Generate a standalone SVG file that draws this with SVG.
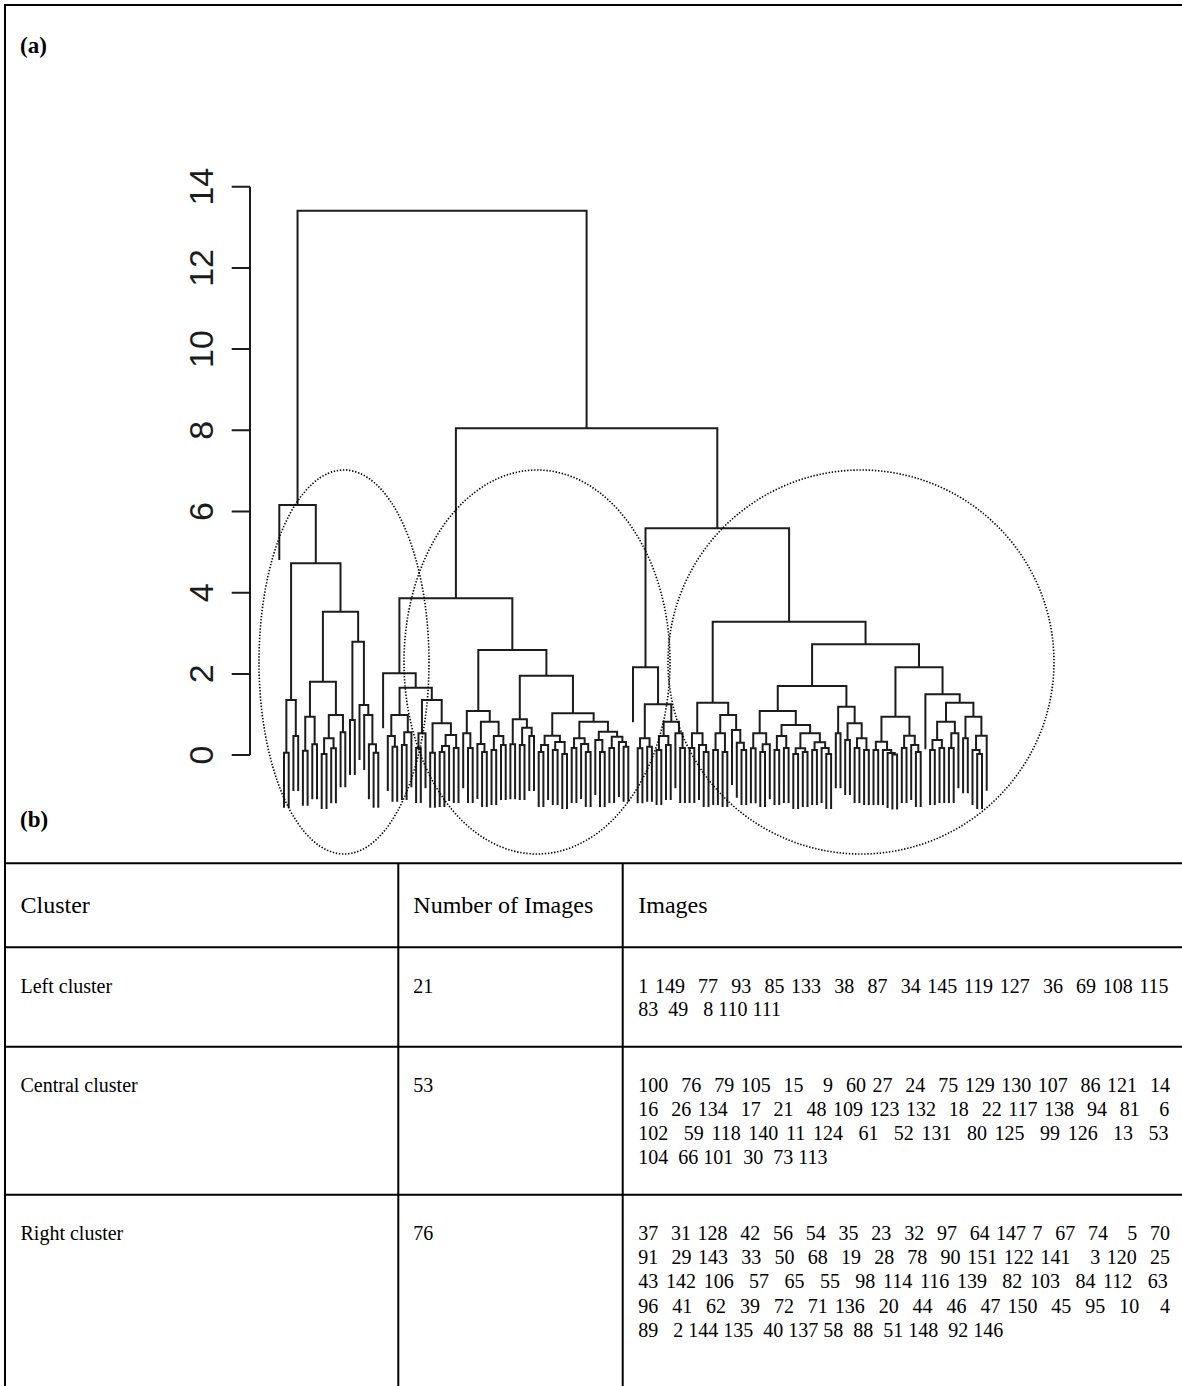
<svg xmlns="http://www.w3.org/2000/svg" width="1182" height="1386" viewBox="0 0 1182 1386">
  <style>
    .frame { stroke: #000; stroke-width: 2; fill: none; }
    .tree { stroke: #1c1c1c; stroke-width: 2; fill: none; stroke-linejoin: miter; stroke-linecap: butt; }
    .axis { stroke: #1c1c1c; stroke-width: 2; fill: none; }
    .ring { stroke: #000; stroke-width: 1.6; fill: none; stroke-dasharray: 1.4 1.7; }
    .tick { font-family: "Liberation Sans", Arial, sans-serif; font-size: 34px; fill: #1c1c1c; text-anchor: middle; }
    .panel { font-family: "Liberation Serif", "Times New Roman", serif; font-size: 23px; font-weight: bold; fill: #000; }
    .head { font-family: "Liberation Serif", "Times New Roman", serif; font-size: 24px; fill: #000; }
    .cell { font-family: "Liberation Serif", "Times New Roman", serif; font-size: 20px; fill: #000; white-space: pre; }
  </style>

  <rect width="1182" height="1386" fill="#fff"/>

  <!-- outer frame (left and top edges) -->
  <g id="frame">
    <path class="frame" d="M5 4V1386M4 5H1182"/>
  </g>

  <text id="label-a" class="panel" x="20" y="53">(a)</text>
  <text id="label-b" class="panel" x="20" y="827">(b)</text>

  <!-- height axis -->
  <g id="axis">
    <path class="axis" d="M250 186.7V755.1M231.7 755.1H250M231.7 673.9H250M231.7 592.7H250M231.7 511.5H250M231.7 430.3H250M231.7 349.1H250M231.7 267.9H250M231.7 186.7H250"/>
    <text class="tick" transform="translate(213 755.1) rotate(-90)">0</text>
    <text class="tick" transform="translate(213 673.9) rotate(-90)">2</text>
    <text class="tick" transform="translate(213 592.7) rotate(-90)">4</text>
    <text class="tick" transform="translate(213 511.5) rotate(-90)">6</text>
    <text class="tick" transform="translate(213 430.3) rotate(-90)">8</text>
    <text class="tick" transform="translate(213 349.1) rotate(-90)">10</text>
    <text class="tick" transform="translate(213 267.9) rotate(-90)">12</text>
    <text class="tick" transform="translate(213 186.7) rotate(-90)">14</text>
  </g>

  <!-- dendrogram: each subpath joins two children at their merge height -->
  <g id="dendrogram">
    <path id="left-branch" class="tree" d="M284 807.7V752.7H288.7V807.7M293.4 791V736H298.2V791M286.35 752.7V700H295.8V736M302.9 805.7V750.7H307.6V805.7M312.3 799.3V744.3H317V799.3M305.25 750.7V716.7H314.65V744.3M321.7 809V754H326.5V809M331.2 803.3V748.3H335.9V803.3M324.1 754V738.3H333.55V748.3M340.6 787.3V732.3H345.3V787.3M328.8 738.3V715H342.95V732.3M309.95 716.7V681.7H335.9V715M350 775V720H354.8V775M373.6 807.7V752.7H378.3V807.7M368.9 799.3V744.3H375.95V752.7M364.2 770V715H372.4V744.3M359.5 760V705H368.3V715M352.4 720V641.7H363.9V705M322.9 681.7V611.7H358.15V641.7M291.1 700V563.3H340.5V611.7M279.3 560V505H315.8V563.3"/>
    <path id="central-branch" class="tree" d="M392.5 801.7V746.7H397.2V801.7M387.8 791V736H394.85V746.7M401.9 800V745H406.6V800M404.25 745V732.3H411.4V787.3M391.3 736V715H407.8V732.3M416.1 803V748H420.8V803M418.45 748V733.3H425.5V788.3M430.2 807.7V752.7H434.9V807.7M439.7 807V752H444.4V807M442.05 752V746H449.1V801M453.8 803V748H458.5V803M445.6 746V735H456.15V748M432.55 752.7V723.3H450.9V735M421.95 733.3V700H441.7V723.3M399.55 715V687.7H431.8V700M383.1 728.3V673.3H415.7V687.7M468 803V748H472.7V803M463.2 788.3V733.3H470.35V748M482.1 807V752H486.8V807M477.4 799V744H484.45V752M491.5 805V750H496.2V805M501 800V745H505.7V800M493.85 750V736H503.35V745M480.9 744V721.7H498.6V736M466.8 733.3V711H489.75V721.7M510.4 799.3V744.3H515.1V799.3M519.8 800V745H524.5V800M529.3 791V736H534V791M522.15 745V727.7H531.65V736M512.75 744.3V719.3H526.9V727.7M538.7 807V752H543.4V807M541.05 752V745H548.1V800M552.8 805V750H557.6V805M562.3 809V754H567V809M555.2 750V742H564.65V754M544.6 745V735.7H559.9V742M571.7 803V748H576.4V803M585.8 807V752H590.6V807M581.1 799V744H588.2V752M574.05 748V738.3H584.65V744M600 807V752H604.7V807M595.3 795V740H602.35V752M609.4 803V748H614.1V803M623.6 801.7V746.7H628.3V801.7M618.9 797V742H625.95V746.7M611.75 748V736.7H622.4V742M598.8 740V731.7H617.1V736.7M579.35 738.3V721.7H607.95V731.7M552.25 735.7V713.3H593.65V721.7M519.8 719.3V675.7H572.95V713.3M478.3 711V650H546.4V675.7M399.4 673.3V598.3H512.35V650"/>
    <path id="right-branch" class="tree" d="M637.7 803.3V748.3H642.4V803.3M647.2 801.7V746.7H651.9V801.7M640.05 748.3V738.3H649.55V746.7M656.6 805V750H661.3V805M666 800V745H670.7V800M658.95 750V736H668.35V745M680.2 803V748H684.9V803M675.4 788.3V733.3H682.55V748M663.65 736V721.7H678.95V733.3M644.8 738.3V704.3H671.3V721.7M633 722.3V667.3H658.05V704.3M689.6 803V748H694.3V803M703.7 807V752H708.5V807M699 800V745H706.1V752M691.95 748V733.3H702.55V745M713.2 805V750H717.9V805M722.6 807V752H727.3V807M715.55 750V733.3H724.95V752M741.5 805V750H746.2V805M736.8 797.7V742.7H743.85V750M732 785V730H740.3V742.7M720.25 733.3V715H736.15V730M697.25 733.3V702.7H728.2V715M750.9 803.3V748.3H755.6V803.3M760.3 807V752H765V807M762.65 752V744.3H769.8V799.3M753.25 748.3V733.3H766.2V744.3M774.5 805V750H779.2V805M783.9 803V748H788.6V803M776.85 750V736H786.25V748M793.3 809V754H798.1V809M802.8 807V752H807.5V807M795.7 754V748.3H805.15V752M812.2 805V750H816.9V805M826.3 809V754H831.1V809M821.6 803V748H828.7V754M814.55 750V742.3H825.15V748M800.4 748.3V733.3H819.85V742.3M781.55 736V725H810.1V733.3M759.7 733.3V711H795.8V725M835.8 788.3V733.3H840.5V788.3M845.2 795V740H849.9V795M854.6 803V748H859.4V803M864.1 805V750H868.8V805M857 748V738.3H866.45V750M847.55 740V723.3H861.7V738.3M838.15 733.3V706.7H854.65V723.3M777.75 711V686H846.4V706.7M873.5 805V750H878.2V805M892.4 809.5V754.5H897.1V809.5M887.6 808V753H894.75V754.5M882.9 805V750H891.2V753M875.85 750V741.7H887.05V750M901.8 803V748H906.5V803M915.9 807V752H920.7V807M911.2 800V745H918.3V752M904.15 748V735.7H914.75V745M881.45 741.7V716.7H909.45V735.7M930.1 805V750H934.8V805M939.5 803V748H944.2V803M932.45 750V740H941.85V748M948.9 803V748H953.7V803M951.3 748V733.3H958.4V788.3M937.15 740V721.7H954.85V733.3M963.1 793.3V738.3H967.8V793.3M977.2 809V754H982V809M972.5 805V750H979.6V754M976.05 750V735.7H986.7V790.7M965.45 738.3V716.7H981.4V735.7M946 721.7V702.7H973.4V716.7M925.4 749.3V694.3H959.7V702.7M895.45 716.7V667.3H942.55V694.3M812.1 686V644.3H919V667.3M712.7 702.7V621.7H865.55V644.3M645.5 667.3V528.3H789.1V621.7"/>
    <path id="top-branch" class="tree" d="M455.9 598.3V428.3H717.3V528.3M297.55 505V210.7H586.6V428.3"/>
  </g>

  <!-- dotted outlines around the three clusters -->
  <g id="cluster-outlines">
    <ellipse id="outline-left" class="ring" cx="344" cy="662" rx="85" ry="192"/>
    <ellipse id="outline-central" class="ring" cx="537" cy="662" rx="133" ry="192"/>
    <ellipse id="outline-right" class="ring" cx="861" cy="662" rx="193" ry="192"/>
  </g>

  <!-- cluster membership table -->
  <g id="table">
    <path class="frame" d="M5 863.3H1182M5 947.3H1182M5 1046.7H1182M5 1194.7H1182M398.3 863.3V1386M622.7 863.3V1386"/>

    <g id="row-header">
      <text class="head" x="20.5" y="913">Cluster</text>
      <text class="head" x="413.3" y="913">Number of Images</text>
      <text class="head" x="638.3" y="913">Images</text>
    </g>

    <g id="row-left">
      <text class="cell" x="20.5" y="992.5">Left cluster</text>
      <text class="cell" x="413.3" y="992.5">21</text>
      <text class="cell" xml:space="preserve" x="638.3" y="992.5" style="word-spacing:1.596px">1 149  77  93  85 133  38  87  34 145 119 127  36  69 108 115</text>
      <text class="cell" xml:space="preserve" x="638.3" y="1016">83  49   8 110 111</text>
    </g>

    <g id="row-central">
      <text class="cell" x="20.5" y="1091.5">Central cluster</text>
      <text class="cell" x="413.3" y="1091.5">53</text>
      <text class="cell" xml:space="preserve" x="638.3" y="1091.5" style="word-spacing:1.468px">100  76  79 105  15   9  60 27  24  75 129 130 107  86 121  14</text>
      <text class="cell" xml:space="preserve" x="638.3" y="1115.7" style="word-spacing:1.468px">16  26 134  17  21  48 109 123 132  18  22 117 138  94  81   6</text>
      <text class="cell" xml:space="preserve" x="638.3" y="1140" style="word-spacing:2.7px">102  59 118 140 11 124  61  52 131  80 125  99 126  13  53</text>
      <text class="cell" xml:space="preserve" x="638.3" y="1164.2">104  66 101  30  73 113</text>
    </g>

    <g id="row-right">
      <text class="cell" x="20.5" y="1240">Right cluster</text>
      <text class="cell" x="413.3" y="1240">76</text>
      <text class="cell" xml:space="preserve" x="638.3" y="1240" style="word-spacing:1.39px">37  31 128  42  56  54  35  23  32  97  64 147 7  67  74   5  70</text>
      <text class="cell" xml:space="preserve" x="638.3" y="1264.2" style="word-spacing:1.604px">91  29 143  33  50  68  19  28  78  90 151 122 141   3 120  25</text>
      <text class="cell" xml:space="preserve" x="638.3" y="1288.4" style="word-spacing:2.7px">43 142 106  57  65  55  98 114 116 139  82 103  84 112  63</text>
      <text class="cell" xml:space="preserve" x="638.3" y="1312.6" style="word-spacing:1.955px">96  41  62  39  72  71 136  20  44  46  47 150  45  95  10   4</text>
      <text class="cell" xml:space="preserve" x="638.3" y="1336.8">89   2 144 135  40 137 58  88  51 148  92 146</text>
    </g>
  </g>
</svg>
